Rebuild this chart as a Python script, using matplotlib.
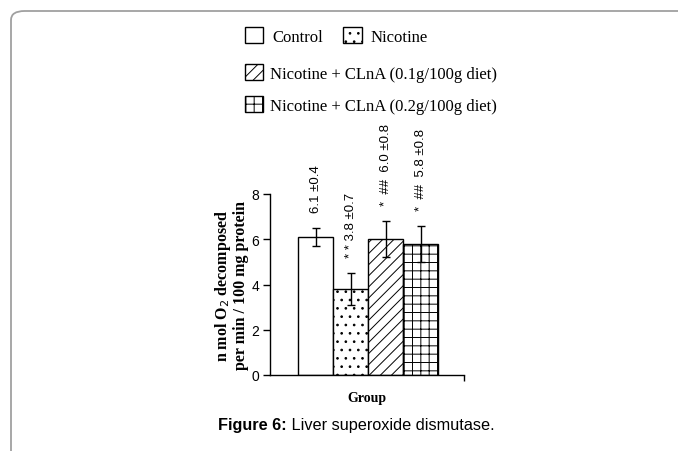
import matplotlib
matplotlib.use('Agg')
import matplotlib.pyplot as plt
from matplotlib.patches import FancyBboxPatch
import numpy as np

# data
groups = ["Control", "Nicotine", "Nicotine + CLnA (0.1g/100g diet)", "Nicotine + CLnA (0.2g/100g diet)"]
means = [6.1, 3.8, 6.0, 5.8]
errors = [0.4, 0.7, 0.8, 0.8]
marks = ["", "* * ", "*  ##  ", "*  ##  "]
hatches = ["", "..", "///", "++"]

serif = "Liberation Serif"
sans = "Liberation Sans"
plt.rcParams['hatch.linewidth'] = 0.7

fig = plt.figure(figsize=(6.78, 4.52), dpi=100)

# grey rounded frame around the figure panel
frame = FancyBboxPatch((11 / 678, -0.1), 1.2, 1.1 - 12 / 452,
                       boxstyle="round,pad=0,rounding_size=0.02",
                       transform=fig.transFigure, fill=False,
                       edgecolor="#a0a0a0", linewidth=1.3, clip_on=False)
fig.add_artist(frame)

ax = fig.add_axes([270 / 678, 76 / 452, 194 / 678, 181 / 452])
x = np.arange(len(groups))
bars = ax.bar(x, means, width=1.0, align="edge", color="white",
              edgecolor="black", linewidth=1.0, hatch=hatches, label=groups)
ax.errorbar(x + 0.5, means, yerr=errors, fmt="none", ecolor="black",
            elinewidth=1.0, capsize=3, capthick=1.0)

for xi, m, e, mk in zip(x, means, errors, marks):
    ax.text(xi + 0.5, m + e + 0.7, f"{mk}{m:.1f} \u00b1{e:.1f}", rotation=90,
            ha="center", va="bottom", fontsize=9.5, family=sans, clip_on=False)

ax.set_xlim(-0.8, 4.74)
ax.set_ylim(0, 8)
ax.set_yticks([0, 2, 4, 6, 8])
ax.set_xticks([4.74])
ax.set_xticklabels([""])
ax.tick_params(axis="y", direction="out", length=5, width=1, labelsize=10, pad=3)
ax.tick_params(axis="x", direction="out", length=4, width=1)
for lab in ax.get_yticklabels():
    lab.set_family(sans)
for s in ["top", "right"]:
    ax.spines[s].set_visible(False)
for s in ["left", "bottom"]:
    ax.spines[s].set_linewidth(1.0)

ax.set_ylabel("n mol O$_2$ decomposed\nper min / 100 mg protein",
              fontsize=11.5, family=serif, fontweight="bold", labelpad=1.5,
              linespacing=1.0)
ax.set_xlabel("Group", fontsize=10, family=serif, fontweight="bold", labelpad=4)

# legend: first row has two entries, then one per row
legkw = dict(frameon=False, prop={"family": serif, "size": 12},
             handlelength=1.1, handleheight=1.1, borderpad=0, borderaxespad=0,
             loc="center left")
fig.legend(handles=list(bars[:2]), labels=groups[:2], ncol=2,
           bbox_to_anchor=(245 / 678, 1 - 37 / 452),
           handletextpad=0.55, columnspacing=1.2, **legkw)
fig.legend(handles=[bars[2]], labels=[groups[2]],
           bbox_to_anchor=(245 / 678, 1 - 74 / 452), handletextpad=0.4, **legkw)
fig.legend(handles=[bars[3]], labels=[groups[3]],
           bbox_to_anchor=(245 / 678, 1 - 106 / 452), handletextpad=0.4, **legkw)

cap = fig.text(218 / 678, 1 - 426 / 452, "Figure 6:", ha="left", va="center",
               fontsize=11.7, family=sans, fontweight="bold")
fig.text(0, 0.5, " Liver superoxide dismutase.", ha="left", va="center",
         fontsize=11.7, family=sans,
         transform=matplotlib.transforms.blended_transform_factory(
             matplotlib.transforms.IdentityTransform(), fig.transFigure))
fig.canvas.draw()
bb = cap.get_window_extent()
fig.texts[-1].set_position((bb.x1, 1 - 426 / 452))

fig.savefig("out.png", dpi=100)
